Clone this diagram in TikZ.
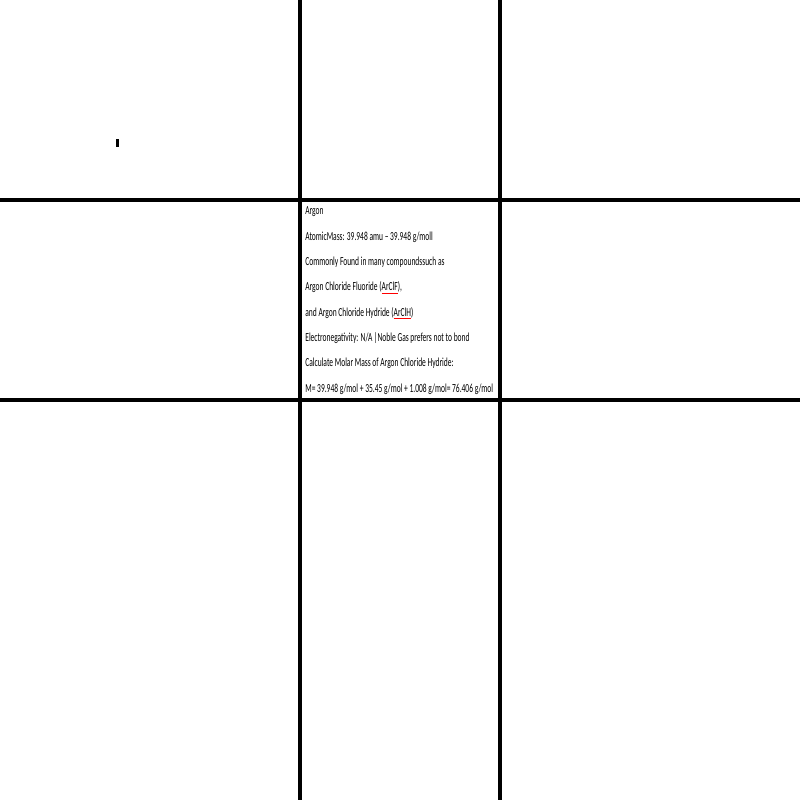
\documentclass[tikz,border=0pt]{standalone}
\usepackage{fontspec}
\setmainfont{Carlito}[FakeStretch=0.61]
\usepackage{tikz}
\usetikzlibrary{positioning}
\tikzset{
grid/.style = {line width=0.08cm, black},
note/.style = {anchor=base west, inner sep=0pt, font=\fontsize{7}{8}\selectfont},
}
\newcommand{\spellmark}[1]{{\color{red}\underline{\color{black}#1}}}

\begin{document}
\begin{tikzpicture}[x=0.02cm, y=-0.02cm]
    \useasboundingbox (0,0) rectangle (800,800);
    \draw [grid] (300,0) -- (300,800);
    \draw [grid] (500,0) -- (500,800);
    \draw [grid] (0,200) -- (800,200);
    \draw [grid] (0,400) -- (800,400);
    \fill (116,139) rectangle (119,147);

    \foreach \txt [count=\i] in {%
        {Argon},
        {AtomicMass: 39.948 amu -- 39.948 g/moll},
        {Commonly Found in many compoundssuch as},
        {Argon Chloride Fluoride (\spellmark{ArClF}),},
        {and Argon Chloride Hydride (\spellmark{ArClH})},
        {Electronegativity: N/A |Noble Gas prefers not to bond},
        {Calculate Molar Mass of Argon Chloride Hydride:},
        {M= 39.948 g/mol + 35.45 g/mol + 1.008 g/mol= 76.406 g/mol}}
        \node [note] (line\i) at (305,{215+25.3*(\i-1)}) {\txt};
\end{tikzpicture}
\end{document}
